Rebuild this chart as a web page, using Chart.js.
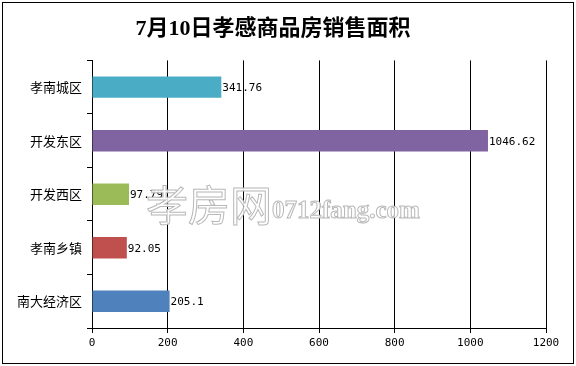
<!DOCTYPE html>
<html>
<head>
<meta charset="utf-8">
<script src="https://cdn.jsdelivr.net/npm/chart.js@4/dist/chart.umd.min.js"></script>
<style>
  html, body { margin: 0; padding: 0; background: #fff; }
  #wrap { width: 576px; height: 366px; }
</style>
</head>
<body>
<div id="wrap"><canvas id="chart" width="576" height="366"></canvas></div>
<script>
  const titleText = "7月10日孝感商品房销售面积";
  const districts = ["孝南城区", "开发东区", "开发西区", "孝南乡镇", "南大经济区"];
  const areas = [341.76, 1046.62, 97.79, 92.05, 205.1];
  const areaLabels = ["341.76", "1046.62", "97.79", "92.05", "205.1"];
  const barColors = ["#4BACC6", "#8064A2", "#9BBB59", "#C0504D", "#4F81BD"];
  const xMax = 1200;
  const xStep = 200;

  // frame, value labels and the site watermark
  const extras = {
    id: "extras",
    beforeDraw(chart) {
      const ctx = chart.ctx;
      ctx.save();
      ctx.fillStyle = "#fff";
      ctx.fillRect(0, 0, chart.width, chart.height);
      ctx.restore();
    },
    afterDatasetsDraw(chart) {
      const ctx = chart.ctx;
      const meta = chart.getDatasetMeta(0);
      ctx.save();
      ctx.font = "11px 'DejaVu Sans Mono', monospace";
      ctx.fillStyle = "#000";
      ctx.textBaseline = "middle";
      ctx.textAlign = "left";
      meta.data.forEach((bar, i) => {
        ctx.fillText(areaLabels[i], bar.x + 1, bar.y + 1);
      });
      ctx.restore();
    },
    afterDraw(chart) {
      const ctx = chart.ctx;
      ctx.save();
      // watermark
      ctx.lineWidth = 1;
      ctx.strokeStyle = "#b8b8b8";
      ctx.fillStyle = "rgba(255,255,255,0.85)";
      ctx.textBaseline = "alphabetic";
      ctx.font = "42px 'Noto Sans CJK SC'";
      ctx.fillText("孝房网", 146, 221);
      ctx.strokeText("孝房网", 146, 221);
      ctx.font = "bold 25px 'Liberation Serif', serif";
      ctx.fillText("0712fang.com", 272, 218);
      ctx.strokeText("0712fang.com", 272, 218);
      // outer frame
      ctx.strokeStyle = "#000";
      ctx.lineWidth = 1;
      ctx.strokeRect(2.5, 2.5, 571, 361);
      ctx.restore();
    }
  };

  new Chart(document.getElementById("chart"), {
    type: "bar",
    data: {
      labels: districts,
      datasets: [{
        data: areas,
        backgroundColor: barColors,
        borderWidth: 0,
        categoryPercentage: 1,
        barPercentage: 0.4
      }]
    },
    options: {
      indexAxis: "y",
      responsive: false,
      animation: false,
      layout: {
        padding: { left: 0, right: 30, top: 0, bottom: 0 }
      },
      plugins: {
        legend: { display: false },
        tooltip: { enabled: false },
        title: {
          display: true,
          text: titleText,
          color: "#000",
          font: { family: "'Liberation Serif', 'Noto Sans CJK SC'", size: 22, weight: "bold", lineHeight: 1.2 },
          padding: { top: 16, bottom: 18 }
        }
      },
      scales: {
        x: {
          min: 0,
          max: xMax,
          ticks: {
            stepSize: xStep,
            color: "#000",
            padding: 4,
            font: { family: "'DejaVu Sans Mono', monospace", size: 11 },
            callback: (v) => String(v)
          },
          grid: {
            color: "#000",
            lineWidth: 1,
            tickLength: 5
          },
          border: { color: "#000", width: 1 },
          afterFit(scale) { scale.height = 38; }
        },
        y: {
          ticks: {
            color: "#000",
            padding: 5,
            font: { family: "'Noto Sans CJK SC'", size: 13 }
          },
          grid: {
            drawOnChartArea: false,
            color: "#000",
            tickLength: 5,
            offset: true
          },
          border: { color: "#000", width: 1 },
          afterFit(scale) { scale.width = 92; }
        }
      }
    },
    plugins: [extras]
  });
</script>
</body>
</html>
